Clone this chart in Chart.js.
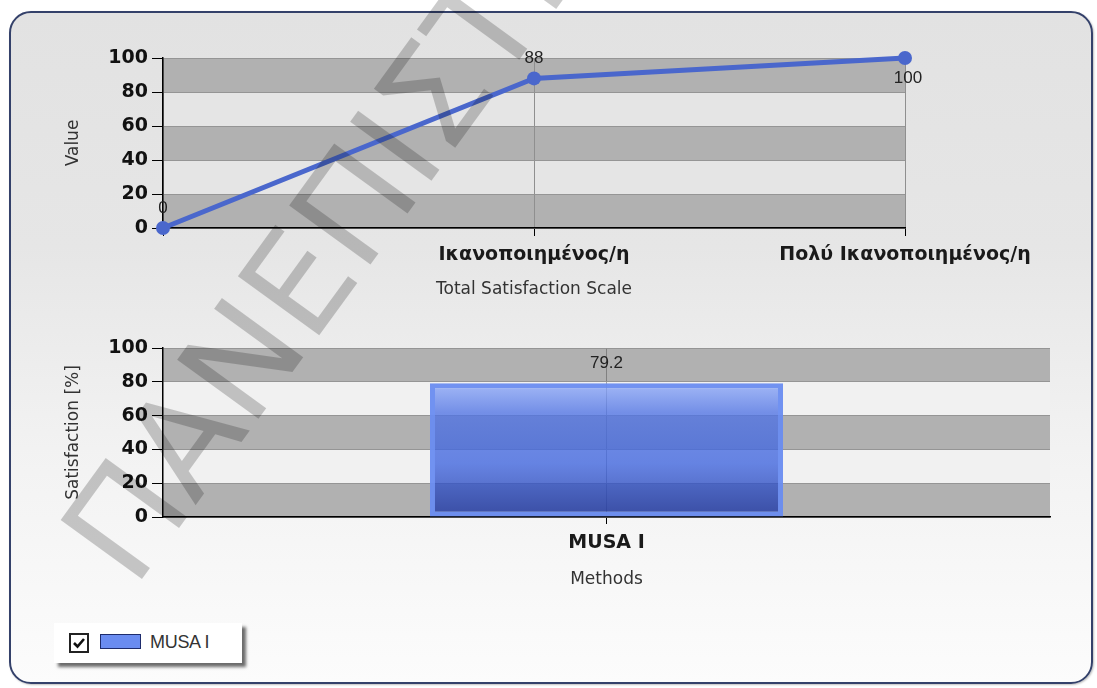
<!DOCTYPE html>
<html>
<head>
<meta charset="utf-8">
<script src="https://cdn.jsdelivr.net/npm/chart.js@4.4.1/dist/chart.umd.min.js"></script>
<style>
  html, body { margin: 0; padding: 0; background: #ffffff; width: 1097px; height: 688px; overflow: hidden; }
  #frame {
    position: absolute; left: 9px; top: 11px; width: 1084px; height: 673px; box-sizing: border-box;
    border: 2px solid #34416a; border-radius: 22px;
    background: linear-gradient(#e2e2e2 0%, #e6e6e6 35%, #f2f2f2 65%, #fcfcfc 100%);
    box-shadow: 1px 1px 2px rgba(0,0,0,0.25);
  }
  canvas { position: absolute; left: 0; }
  #lineChart { top: 0; }
  #barChart { top: 320px; }
  #watermark { top: 0; pointer-events: none; opacity: 0.2; }
  #legend {
    position: absolute; left: 54px; top: 623px; width: 188px; height: 40px; background: #ffffff;
    box-shadow: 4px 4px 3px rgba(60,60,60,0.75);
    font: 18px "Liberation Sans", Arial, sans-serif; color: #333;
  }
  #legend .check { position: absolute; left: 15px; top: 10px; width: 16px; height: 16px; border: 2px solid #222; background: #fff; }
  #legend .swatch { position: absolute; left: 46px; top: 11px; width: 41px; height: 15px; border: 1.5px solid #1e2c6c; box-sizing: border-box; }
  #legend .text { position: absolute; left: 96px; top: 9px; letter-spacing: -0.3px; }
</style>
</head>
<body>
<div id="frame"></div>
<canvas id="lineChart" width="1097" height="310"></canvas>
<canvas id="barChart" width="1097" height="290"></canvas>
<div id="legend">
  <div class="check"><svg width="16" height="16" viewBox="0 0 16 16"><path d="M3 8 L6.5 11.5 L13 4" fill="none" stroke="#111" stroke-width="2.6"/></svg></div>
  <div class="swatch"></div>
  <div class="text"></div>
</div>
<canvas id="watermark" width="1097" height="688"></canvas>

<script>
// ---- data ----
const scaleCategories = ['', 'Ικανοποιημένος/η', 'Πολύ Ικανοποιημένος/η'];
const scaleValues = [0, 88, 100];
const methodCategories = ['MUSA I'];
const methodSatisfaction = [79.2];
const yMin = 0;
const yMax = 100;
const yStep = 20;

// ---- shared styling ----
const BOLD_TICK = { family: '"DejaVu Sans", Verdana, sans-serif', size: 19, weight: 'bold' };
const TITLE_FONT = { family: '"DejaVu Sans", Verdana, sans-serif', size: 17 };
const LINE_BLUE = '#4a67cc';

// alternating horizontal strips behind the plot area
const stripes = {
  id: 'stripes',
  beforeDraw(chart, args, opts) {
    const { ctx, chartArea: { left, right }, scales: { y } } = chart;
    const ticks = y.ticks;
    ctx.save();
    for (let i = 0; i < ticks.length - 1; i++) {
      const y0 = y.getPixelForValue(ticks[i].value);
      const y1 = y.getPixelForValue(ticks[i + 1].value);
      ctx.fillStyle = i % 2 === 0 ? opts.dark : opts.light;
      ctx.fillRect(left, y1, right - left, y0 - y1);
    }
    ctx.restore();
  }
};

// value printed next to each mark
const valueLabels = {
  id: 'valueLabels',
  afterDatasetsDraw(chart, args, opts) {
    const { ctx } = chart;
    ctx.save();
    ctx.font = opts.font;
    ctx.fillStyle = opts.color;
    ctx.textAlign = 'center';
    ctx.textBaseline = 'middle';
    chart.data.datasets.forEach((ds, di) => {
      chart.getDatasetMeta(di).data.forEach((el, i) => {
        const v = ds.data[i];
        const below = v >= chart.scales.y.max && opts.flipAtTop;
        ctx.fillText(String(v), el.x + (below ? 3 : 0), el.y + (below ? opts.offset : -opts.offset));
      });
    });
    ctx.restore();
  }
};

function yAxis(title) {
  return {
    min: yMin, max: yMax,
    afterFit(s) { s.width = 123; },
    ticks: { stepSize: yStep, font: BOLD_TICK, color: '#111', padding: 4 },
    grid: { color: '#959595', tickColor: '#000', tickLength: 11, lineWidth: 1 },
    border: { color: '#000', width: 1.5 },
    title: { display: true, text: title, font: TITLE_FONT, color: '#333', padding: { top: 23 } }
  };
}

// ---- upper chart: satisfaction scale ----
new Chart(document.getElementById('lineChart'), {
  type: 'line',
  data: {
    labels: scaleCategories,
    datasets: [{
      label: 'MUSA I',
      data: scaleValues,
      borderColor: LINE_BLUE,
      backgroundColor: LINE_BLUE,
      borderWidth: 5,
      pointRadius: 7,
      pointBorderWidth: 0,
      pointBackgroundColor: LINE_BLUE,
      tension: 0,
      clip: false
    }]
  },
  options: {
    responsive: false,
    devicePixelRatio: 1,
    animation: false,
    layout: { padding: { left: 40, top: 58, right: 192, bottom: 2 } },
    plugins: {
      legend: { display: false },
      tooltip: { enabled: false },
      stripes: { dark: '#b1b1b1', light: '#e5e5e5' },
      valueLabels: { font: '17px "Liberation Sans", Arial, sans-serif', color: '#222', offset: 20, flipAtTop: true }
    },
    scales: {
      x: {
        offset: false,
        afterFit(s) { s.height = 80; },
        ticks: { font: BOLD_TICK, color: '#1a1a1a', padding: 8, maxRotation: 0, autoSkip: false },
        grid: { color: '#8f8f8f', tickColor: '#000', tickLength: 8, lineWidth: 1 },
        border: { color: '#000', width: 1.5 },
        title: { display: true, text: 'Total Satisfaction Scale', font: TITLE_FONT, color: '#333', padding: { bottom: 8 } }
      },
      y: yAxis('Value')
    }
  },
  plugins: [stripes, valueLabels]
});

// ---- lower chart: satisfaction per method ----
function barFill(c) {
  const ch = c.chart;
  if (!ch.chartArea) return 'rgba(75,110,225,0.75)';
  const ys = ch.scales.y;
  const top = ys.getPixelForValue(c.raw);
  const bot = ys.getPixelForValue(0);
  const g = ch.ctx.createLinearGradient(0, top, 0, bot);
  g.addColorStop(0, 'rgba(140,168,248,0.78)');
  g.addColorStop(0.22, 'rgba(80,115,228,0.78)');
  g.addColorStop(0.6, 'rgba(62,100,222,0.78)');
  g.addColorStop(1, 'rgba(28,52,160,0.8)');
  return g;
}

const barChart = new Chart(document.getElementById('barChart'), {
  type: 'bar',
  data: {
    labels: methodCategories,
    datasets: [{
      label: 'MUSA I',
      data: methodSatisfaction,
      backgroundColor: barFill,
      borderColor: 'rgba(105,140,240,0.95)',
      borderWidth: 5,
      borderSkipped: false,
      barPercentage: 0.398,
      categoryPercentage: 1
    }]
  },
  options: {
    responsive: false,
    devicePixelRatio: 1,
    animation: false,
    layout: { padding: { left: 40, top: 28, right: 47, bottom: 18 } },
    plugins: {
      legend: { display: false },
      tooltip: { enabled: false },
      stripes: { dark: '#b1b1b1', light: '#f1f1f1' },
      valueLabels: { font: '17px "Liberation Sans", Arial, sans-serif', color: '#222', offset: 20, flipAtTop: false }
    },
    scales: {
      x: {
        z: 1,
        afterFit(s) { s.height = 75; },
        ticks: { font: BOLD_TICK, color: '#1a1a1a', padding: 8 },
        grid: { offset: false, color: 'rgba(70,70,70,0.45)', tickColor: '#000', tickLength: 7, lineWidth: 1 },
        border: { color: '#000', width: 1.5 },
        title: { display: true, text: 'Methods', font: TITLE_FONT, color: '#333', padding: { bottom: 2 } }
      },
      y: yAxis('Satisfaction [%]')
    }
  },
  plugins: [stripes, valueLabels]
});

// ---- legend built from the bar dataset ----
const legendSet = barChart.data.datasets[0];
document.querySelector('#legend .text').textContent = legendSet.label;
document.querySelector('#legend .swatch').style.background = '#6a8cf0';

// ---- diagonal watermark ----
const wm = document.getElementById('watermark').getContext('2d');
wm.save();
wm.translate(134, 590);
wm.rotate(-54 * Math.PI / 180);
wm.font = '138px "DejaVu Sans", sans-serif';
wm.fillStyle = '#000';
wm.fillText('ΠΑΝΕΠΙΣΤΗΜΙΟ', 0, 0);
wm.restore();
</script>
</body>
</html>
